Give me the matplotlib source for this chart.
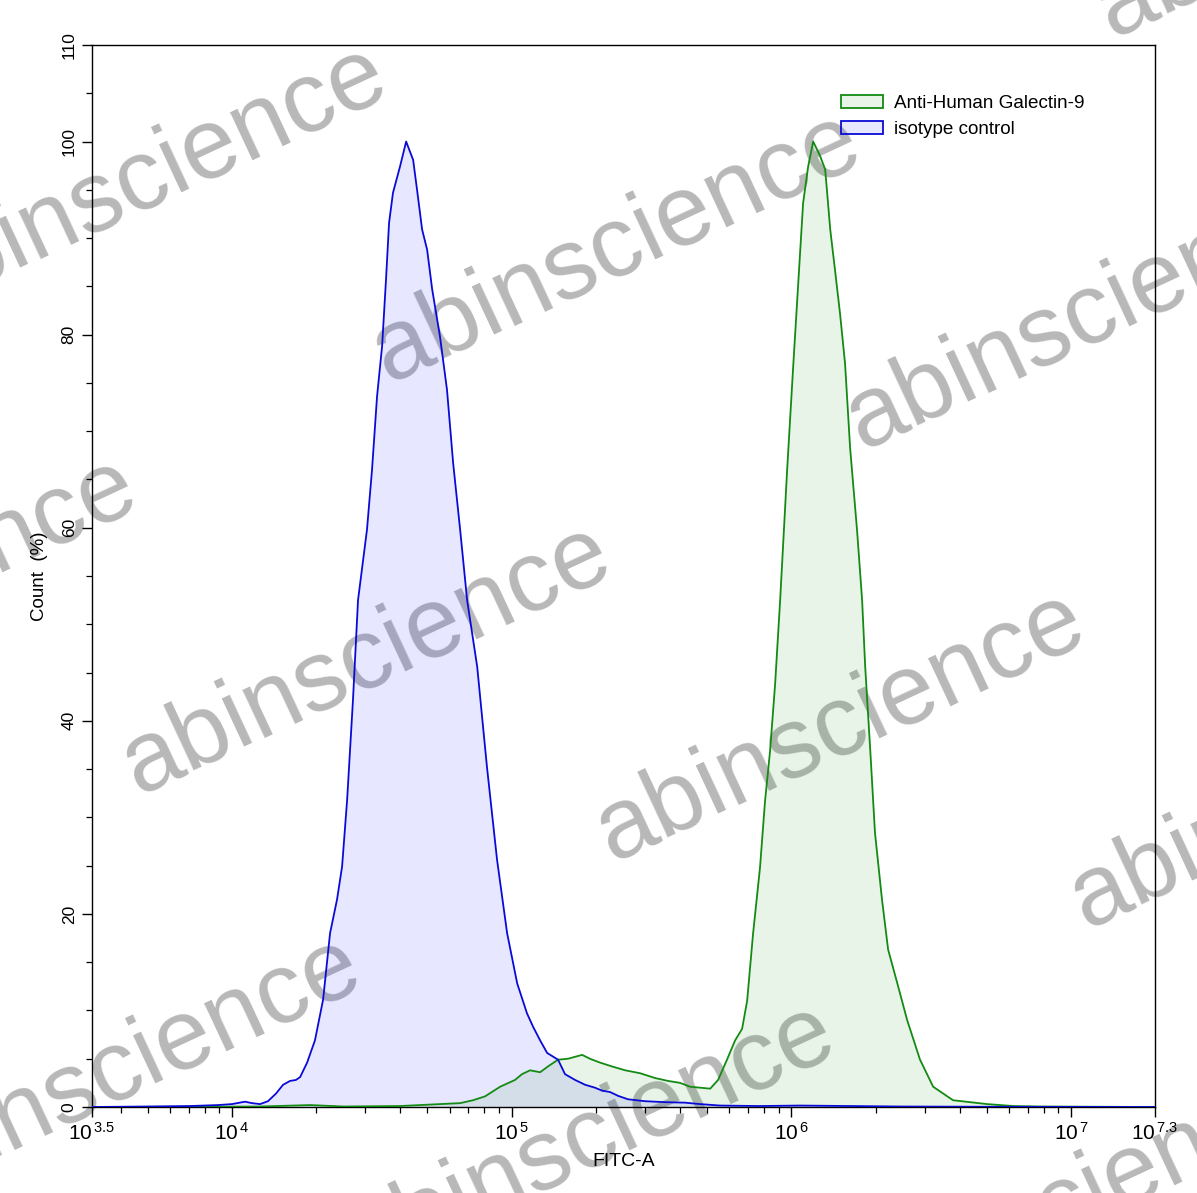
import numpy as np
import matplotlib
matplotlib.use("Agg")
import matplotlib.pyplot as plt
from matplotlib.patches import Patch
from matplotlib.ticker import FixedLocator, MultipleLocator, LogLocator, NullFormatter

plt.rcParams["font.family"] = ["Liberation Sans", "DejaVu Sans"]
plt.rcParams["mathtext.fontset"] = "custom"
plt.rcParams["mathtext.rm"] = "Liberation Sans"
plt.rcParams["mathtext.it"] = "Liberation Sans:italic"

# isotype control (blue), x in log10(FITC-A), y in Count (%)
iso_log = [3.50, 3.70, 3.85, 3.95, 4.00, 4.047, 4.072, 4.101, 4.129, 4.158, 4.183,
           4.208, 4.229, 4.244, 4.269, 4.297, 4.326, 4.351, 4.376, 4.394, 4.412,
           4.433, 4.451, 4.483, 4.501, 4.519, 4.537, 4.551, 4.562, 4.576, 4.601,
           4.623, 4.648, 4.662, 4.680, 4.698, 4.716, 4.744, 4.769, 4.791, 4.816,
           4.841, 4.877, 4.912, 4.948, 4.984, 5.020, 5.055, 5.077, 5.102, 5.127,
           5.166, 5.191, 5.227, 5.263, 5.298, 5.323, 5.352, 5.381, 5.416, 5.477,
           5.549, 5.620, 5.674, 5.745, 5.888, 6.031, 6.210, 6.389, 6.75, 7.30]
iso_pct = [0.0, 0.05, 0.1, 0.2, 0.3, 0.55, 0.4, 0.3, 0.6, 1.4, 2.3,
           2.7, 2.8, 3.1, 4.6, 6.9, 11.1, 18.0, 21.5, 24.9, 31.8,
           42.2, 52.5, 59.8, 66.0, 73.6, 78.8, 85.7, 91.6, 94.7, 97.4,
           100.0, 98.1, 95.0, 90.9, 88.8, 84.7, 79.8, 74.3, 66.7, 59.8,
           52.5, 45.6, 35.2, 25.6, 18.0, 12.8, 9.7, 8.3, 6.9, 5.6,
           4.9, 3.4, 2.8, 2.3, 2.0, 1.7, 1.55, 1.15, 0.8, 0.6,
           0.5, 0.45, 0.3, 0.15, 0.1, 0.15, 0.1, 0.05, 0.02, 0.0]

# Anti-Human Galectin-9 (green)
gal_log = [3.50, 3.90, 4.10, 4.28, 4.40, 4.601, 4.744, 4.816, 4.862, 4.905, 4.959,
           5.012, 5.037, 5.066, 5.102, 5.130, 5.166, 5.202, 5.227, 5.252, 5.280,
           5.316, 5.359, 5.406, 5.459, 5.513, 5.559, 5.602, 5.638, 5.674, 5.710,
           5.738, 5.770, 5.799, 5.824, 5.842, 5.863, 5.888, 5.906, 5.924, 5.942,
           5.960, 5.985, 6.006, 6.024, 6.042, 6.060, 6.078, 6.103, 6.121, 6.139,
           6.156, 6.174, 6.192, 6.210, 6.235, 6.253, 6.264, 6.282, 6.299, 6.324,
           6.346, 6.378, 6.414, 6.460, 6.507, 6.578, 6.700, 6.793, 6.889, 7.30]
gal_pct = [0.0, 0.03, 0.05, 0.2, 0.05, 0.1, 0.3, 0.4, 0.7, 1.1, 2.1,
           2.8, 3.4, 3.8, 3.6, 4.2, 4.9, 5.0, 5.2, 5.4, 5.0,
           4.6, 4.2, 3.8, 3.5, 3.0, 2.7, 2.5, 2.1, 2.0, 1.9,
           2.8, 4.9, 6.9, 8.1, 11.0, 17.9, 24.8, 31.7, 36.9, 43.8,
           52.5, 66.0, 76.4, 85.0, 93.6, 97.4, 100.0, 98.5, 97.1, 90.9,
           86.7, 82.2, 77.0, 68.3, 59.7, 52.5, 45.6, 37.0, 28.4, 21.5,
           16.3, 12.9, 9.0, 4.9, 2.1, 0.7, 0.3, 0.1, 0.05, 0.0]

series_names = ["Anti-Human Galectin-9", "isotype control"]
xtick_exps = [3.5, 4, 5, 6, 7, 7.3]
xtick_text = ["3.5", "4", "5", "6", "7", "7.3"]
ytick_vals = [0, 20, 40, 60, 80, 100, 110]

W, H = 1197, 1193
fig = plt.figure(figsize=(W / 100, H / 100), dpi=100)
fig.patch.set_facecolor("white")
ax = fig.add_axes([92 / W, 86 / H, 1063 / W, 1062 / H])
ax.set_facecolor("none")

# watermark, behind the plot
wm_starts = [(388, 383), (138, 795), (612, 862), (862, 450), (-86, 316), (-336, 728),
             (-112, 1207), (362, 1274), (1086, 929), (1112, 38), (836, 1341)]
for sx, sy in wm_starts:
    fig.text(sx / W, 1 - sy / H, "abinscience", fontsize=72, color="#b8b8b8",
             rotation=25, rotation_mode="anchor", ha="left", va="baseline", zorder=-1)

blue = "#0a0ad8"
green = "#138a13"
xb = 10 ** np.array(iso_log)
xg = 10 ** np.array(gal_log)
ax.fill_between(xb, iso_pct, 0, color=(0.0, 0.0, 1.0), alpha=0.095, lw=0, zorder=1)
ax.fill_between(xg, gal_pct, 0, color=(0.0, 0.5, 0.0), alpha=0.085, lw=0, zorder=1)
ax.plot(xg, gal_pct, color=green, lw=1.3, zorder=3)
ax.plot(xb, iso_pct, color=blue, lw=1.3, zorder=3)

ax.set_xscale("log")
ax.set_xlim(10 ** 3.5, 10 ** 7.3)
ax.set_ylim(0, 110)

ax.xaxis.set_major_locator(FixedLocator([10 ** e for e in xtick_exps]))
ax.set_xticklabels([r"$\mathrm{10^{\,%s}}$" % t for t in xtick_text], fontsize=15)
ax.xaxis.set_minor_locator(LogLocator(base=10, subs=np.arange(2, 10), numticks=20))
ax.xaxis.set_minor_formatter(NullFormatter())

ax.yaxis.set_major_locator(FixedLocator(ytick_vals))
ax.set_yticklabels([str(v) for v in ytick_vals], rotation=90, va="center", fontsize=12.5)
ax.yaxis.set_minor_locator(MultipleLocator(5))

ax.tick_params(which="major", direction="out", length=7, width=1.0, pad=4)
ax.tick_params(which="minor", direction="out", length=4, width=0.9)
for sp in ax.spines.values():
    sp.set_linewidth(1.0)

ax.set_xlabel("FITC-A", fontsize=14, labelpad=6)
ax.set_ylabel("Count  (%)", fontsize=13.5, labelpad=10)

handles = [Patch(facecolor=(0.0, 0.5, 0.0, 0.085), edgecolor=green, lw=1.3),
           Patch(facecolor=(0.0, 0.0, 1.0, 0.095), edgecolor=blue, lw=1.3)]
ax.legend(handles, series_names, loc="upper left", bbox_to_anchor=(0.689, 0.969),
          frameon=False, fontsize=13.6, handlelength=2.22, handleheight=0.69,
          handletextpad=0.58, labelspacing=0.45)

fig.savefig("out.png", dpi=100)
